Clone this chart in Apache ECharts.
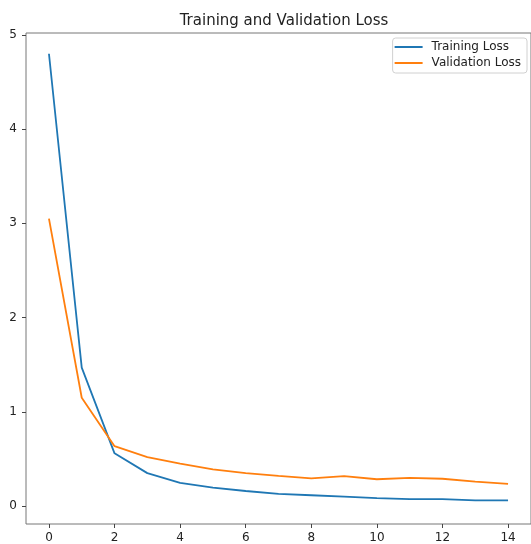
<!DOCTYPE html>
<html><head><meta charset="utf-8">
<script src="https://cdn.jsdelivr.net/npm/echarts@6/dist/echarts.min.js"></script>
<style>html,body{margin:0;padding:0;background:#fff}#c{width:531px;height:544px}</style>
</head><body><div id="c"></div>
<script>
const epochs = [0,1,2,3,4,5,6,7,8,9,10,11,12,13,14];
const trainingLoss = [4.80,1.47,0.56,0.35,0.247,0.195,0.16,0.13,0.115,0.10,0.085,0.074,0.074,0.06,0.06];
const validationLoss = [3.05,1.15,0.636,0.52,0.45,0.39,0.35,0.32,0.295,0.317,0.285,0.30,0.29,0.26,0.235];
const xTicks = [0,2,4,6,8,10,12,14];
const yTicks = [0,1,2,3,4,5];

const font = 'DejaVu Sans';
const chart = echarts.init(document.getElementById('c'));
chart.setOption({
  animation: false,
  title: {
    text: 'Training and Validation Loss',
    left: 279, top: 9, textAlign: 'center',
    textStyle: {fontFamily: font, fontSize: 15, fontWeight: 'normal', color: '#222'}
  },
  legend: {
    right: 4, top: 38, orient: 'vertical', icon: 'rect',
    backgroundColor: '#fff', borderColor: '#d0d0d0', borderWidth: 1, borderRadius: 3,
    padding: [3, 6, 4, 2], itemGap: 4, itemWidth: 28, itemHeight: 2,
    textStyle: {fontFamily: font, fontSize: 12, color: '#222', padding: [0,0,0,4]},
    data: ['Training Loss', 'Validation Loss']
  },
  grid: {left: 26, top: 33, width: 508, height: 493, show: true, borderColor: '#777', borderWidth: 1, containLabel: false},
  xAxis: {
    type: 'value', min: -0.7, max: 14.7,
    axisLine: {show: false, onZero: false},
    splitLine: {show: false},
    axisTick: {show: true, customValues: xTicks, length: 4, lineStyle: {color: '#444'}},
    axisLabel: {customValues: xTicks, fontFamily: font, fontSize: 12, color: '#222', margin: 8}
  },
  yAxis: {
    type: 'value', min: -0.19, max: 5.02,
    axisLine: {show: false, onZero: false},
    splitLine: {show: false},
    axisTick: {show: true, customValues: yTicks, length: 4, lineStyle: {color: '#444'}},
    axisLabel: {customValues: yTicks, fontFamily: font, fontSize: 12, color: '#222', margin: 9}
  },
  series: [
    {name: 'Training Loss', type: 'line', symbol: 'none', data: epochs.map((e,i)=>[e, trainingLoss[i]]),
     lineStyle: {color: '#1f77b4', width: 1.8}, itemStyle: {color: '#1f77b4'}},
    {name: 'Validation Loss', type: 'line', symbol: 'none', data: epochs.map((e,i)=>[e, validationLoss[i]]),
     lineStyle: {color: '#ff7f0e', width: 1.8}, itemStyle: {color: '#ff7f0e'}}
  ]
});
</script></body></html>
